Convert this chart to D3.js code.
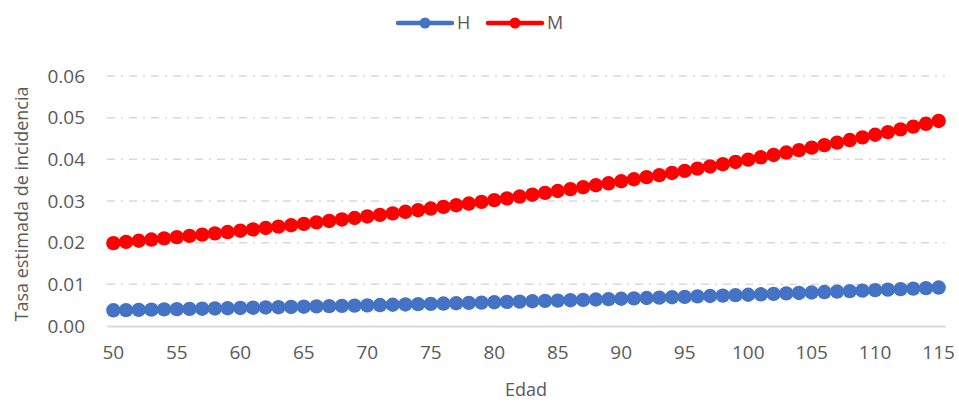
<!DOCTYPE html>
<html>
<head>
<meta charset="utf-8">
<script src="https://cdn.jsdelivr.net/npm/d3@7"></script>
<style>
  body { margin: 0; background: #fff; }
  svg text { font-family: "Open Sans", sans-serif; fill: #595959; }
  .grid line { stroke: #d9d9d9; stroke-width: 1.5; stroke-dasharray: 8,6,2,6; }
</style>
</head>
<body>
<div id="chart"></div>
<script>
// edades 50..115
var ages = [50,51,52,53,54,55,56,57,58,59,60,61,62,63,64,65,66,67,68,69,70,71,72,73,74,75,76,77,78,79,
  80,81,82,83,84,85,86,87,88,89,90,91,92,93,94,95,96,97,98,99,100,101,102,103,104,105,106,107,108,109,
  110,111,112,113,114,115];

var valuesH = [0.00377,0.00382,0.00388,0.00393,0.00398,0.00404,0.00410,0.00415,0.00421,0.00427,0.00433,
  0.00439,0.00445,0.00451,0.00457,0.00463,0.00470,0.00476,0.00483,0.00490,0.00496,
  0.00503,0.00510,0.00517,0.00525,0.00532,0.00539,0.00547,0.00554,0.00562,0.00570,
  0.00578,0.00586,0.00594,0.00602,0.00610,0.00619,0.00627,0.00636,0.00645,0.00654,
  0.00663,0.00672,0.00681,0.00691,0.00700,0.00710,0.00720,0.00730,0.00740,0.00750,
  0.00761,0.00771,0.00782,0.00793,0.00804,0.00815,0.00826,0.00838,0.00849,0.00861,
  0.00873,0.00885,0.00898,0.00910,0.00923];

var valuesM = [0.01990,0.02018,0.02046,0.02075,0.02104,0.02133,0.02163,0.02193,0.02224,0.02255,0.02287,
  0.02319,0.02352,0.02385,0.02418,0.02452,0.02486,0.02521,0.02557,0.02592,0.02629,
  0.02666,0.02703,0.02741,0.02779,0.02819,0.02858,0.02898,0.02939,0.02980,0.03022,
  0.03064,0.03107,0.03151,0.03195,0.03240,0.03285,0.03331,0.03378,0.03425,0.03474,
  0.03522,0.03572,0.03622,0.03673,0.03724,0.03776,0.03829,0.03883,0.03937,0.03993,
  0.04049,0.04105,0.04163,0.04221,0.04281,0.04341,0.04402,0.04463,0.04526,0.04590,
  0.04654,0.04719,0.04786,0.04853,0.04921];

var yTicks = [0, 0.01, 0.02, 0.03, 0.04, 0.05, 0.06];
var xTickLabels = [50,55,60,65,70,75,80,85,90,95,100,105,110,115];

var series = [
  {name: "H", color: "#4472c4", values: valuesH},
  {name: "M", color: "#ff0000", values: valuesM}
];

var width = 959, height = 402;
var margin = {top: 76, right: 14, bottom: 76, left: 107};

var svg = d3.select("#chart").append("svg")
  .attr("width", width)
  .attr("height", height);

var x = d3.scaleBand()
  .domain(ages)
  .range([margin.left, width - margin.right]);

var y = d3.scaleLinear()
  .domain([0, 0.06])
  .range([height - margin.bottom, margin.top]);

// gridlines
svg.append("g")
  .attr("class", "grid")
  .selectAll("line")
  .data(yTicks.filter(function(d) { return d > 0; }))
  .enter().append("line")
  .attr("x1", margin.left)
  .attr("x2", width - margin.right)
  .attr("y1", function(d) { return y(d); })
  .attr("y2", function(d) { return y(d); });

// y axis labels
var yAxis = d3.axisLeft(y)
  .tickValues(yTicks)
  .tickFormat(d3.format(".2f"))
  .tickSize(0)
  .tickPadding(22);

svg.append("g")
  .attr("transform", "translate(" + margin.left + ",0)")
  .call(yAxis)
  .call(function(g) { g.select(".domain").remove(); })
  .selectAll("text")
  .style("font-size", "19px");

// x axis
var xAxis = d3.axisBottom(x)
  .tickValues(xTickLabels)
  .tickSize(0)
  .tickPadding(20);

var gx = svg.append("g")
  .attr("transform", "translate(0," + y(0) + ")")
  .call(xAxis);
gx.select(".domain")
  .attr("stroke", "#d9d9d9")
  .attr("stroke-width", 2);
gx.selectAll("text").style("font-size", "19px");

// lines + markers
var line = d3.line()
  .x(function(d, i) { return x(ages[i]) + x.bandwidth() / 2; })
  .y(function(d) { return y(d); });

series.forEach(function(s) {
  svg.append("path")
    .datum(s.values)
    .attr("fill", "none")
    .attr("stroke", s.color)
    .attr("stroke-width", 4.5)
    .attr("d", line);

  svg.append("g")
    .selectAll("circle")
    .data(s.values)
    .enter().append("circle")
    .attr("cx", function(d, i) { return x(ages[i]) + x.bandwidth() / 2; })
    .attr("cy", function(d) { return y(d); })
    .attr("r", 7.2)
    .attr("fill", s.color);
});

// axis titles
svg.append("text")
  .attr("transform", "translate(22," + ((margin.top + y(0)) / 2 + 3) + ") rotate(-90)")
  .attr("text-anchor", "middle")
  .attr("dy", "0.35em")
  .style("font-size", "18px")
  .text("Tasa estimada de incidencia");

svg.append("text")
  .attr("x", (margin.left + width - margin.right) / 2)
  .attr("y", 390)
  .attr("text-anchor", "middle")
  .attr("dy", "0.35em")
  .style("font-size", "18px")
  .text("Edad");

// legend
var legendX = [398, 488];
var legend = svg.selectAll(".legend")
  .data(series)
  .enter().append("g")
  .attr("class", "legend")
  .attr("transform", function(d, i) { return "translate(" + legendX[i] + ",23)"; });

legend.append("line")
  .attr("x1", 0).attr("x2", 54)
  .attr("stroke", function(d) { return d.color; })
  .attr("stroke-width", 4.5)
  .attr("stroke-linecap", "round");

legend.append("circle")
  .attr("cx", 27)
  .attr("r", 5.5)
  .attr("fill", function(d) { return d.color; });

legend.append("text")
  .attr("x", 59)
  .attr("dy", "0.35em")
  .style("font-size", "18px")
  .text(function(d) { return d.name; });
</script>
</body>
</html>
